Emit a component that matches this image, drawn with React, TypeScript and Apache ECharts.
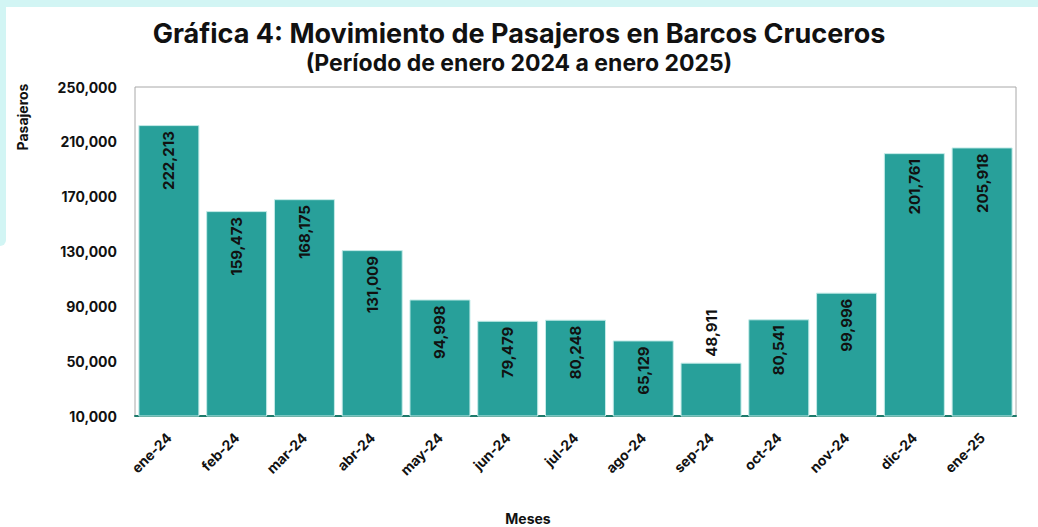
import React, { useEffect, useRef } from "react";
import * as echarts from "echarts";

const categories = ["ene-24", "feb-24", "mar-24", "abr-24", "may-24", "jun-24", "jul-24", "ago-24", "sep-24", "oct-24", "nov-24", "dic-24", "ene-25"];
const pasajeros = [222213, 159473, 168175, 131009, 94998, 79479, 80248, 65129, 48911, 80541, 99996, 201761, 205918];
const outsideLabelIndex = [8];
const titleText = "Gráfica 4: Movimiento de Pasajeros en Barcos Cruceros";
const subtitleText = "(Período de enero 2024 a enero 2025)";
const yAxisName = "Pasajeros";
const xAxisName = "Meses";

const FONT = "Inter, 'Noto Sans', sans-serif";
const fmt = (v: number) => v.toLocaleString("en-US");

export default function App() {
  const ref = useRef<HTMLDivElement>(null);
  useEffect(() => {
    if (!ref.current) return;
    const chart = echarts.init(ref.current, null, { renderer: "svg" });
    const data = pasajeros.map((v, i) =>
      outsideLabelIndex.includes(i)
        ? { value: v, label: { position: "top", align: "left", distance: 6 } }
        : { value: v }
    );
    chart.setOption({
      animation: false,
      backgroundColor: "#ffffff",
      textStyle: { fontFamily: FONT },
      graphic: [
        { type: "rect", shape: { x: 0, y: 0, width: 1038, height: 7 }, style: { fill: "#d2f5f4" }, z: -10 },
        { type: "rect", shape: { x: 0, y: 0, width: 6, height: 246, r: [0, 0, 6, 0] }, style: { fill: "#d2f5f4" }, z: -10 },
        {
          type: "text",
          x: 22,
          y: 117,
          rotation: Math.PI / 2,
          style: { text: yAxisName, font: `bold 14px ${FONT}`, fill: "#111", align: "center", verticalAlign: "middle" },
        },
        {
          type: "text",
          x: 528,
          y: 518,
          style: { text: xAxisName, font: `bold 14px ${FONT}`, fill: "#111", align: "center", verticalAlign: "middle" },
        },
      ],
      title: [
        {
          text: titleText,
          left: "center",
          top: 15,
          textStyle: { fontFamily: FONT, fontSize: 27, fontWeight: "bold", color: "#111" },
        },
        {
          text: subtitleText,
          left: "center",
          top: 46,
          textStyle: { fontFamily: FONT, fontSize: 23, fontWeight: "bold", color: "#111" },
        },
      ],
      grid: {
        left: 135,
        right: 22,
        top: 87,
        bottom: 111,
        show: true,
        borderColor: "#a8a8a8",
        borderWidth: 1,
        containLabel: false,
        outerBoundsMode: "none",
      },
      xAxis: {
        type: "category",
        data: categories,
        axisLine: { lineStyle: { color: "#1d7a6b", width: 2 } },
        axisTick: { show: false },
        axisLabel: { rotate: 45, fontFamily: FONT, fontSize: 14, fontWeight: "bold", color: "#111", margin: 19 },
      },
      yAxis: {
        type: "value",
        min: 10000,
        max: 250000,
        interval: 40000,
        axisLine: { show: false },
        axisTick: { show: false },
        splitLine: { show: false },
        axisLabel: {
          formatter: (v: number) => fmt(v),
          fontFamily: FONT,
          fontSize: 14,
          fontWeight: "bold",
          color: "#111",
          margin: 18,
        },
      },
      series: [
        {
          type: "bar",
          data,
          barCategoryGap: "10%",
          itemStyle: { color: "#28a09a", borderColor: "#c4ebe8", borderWidth: 1 },
          label: {
            show: true,
            position: "insideTop",
            rotate: 90,
            align: "right",
            verticalAlign: "middle",
            distance: 6,
            formatter: (p: any) => fmt(p.value),
            fontFamily: FONT,
            fontSize: 15,
            fontWeight: "bold",
            color: "#111",
          },
        },
      ],
    });
    return () => chart.dispose();
  }, []);
  return <div ref={ref} style={{ position: "fixed", left: 0, top: 0, width: 1038, height: 527 }} />;
}
